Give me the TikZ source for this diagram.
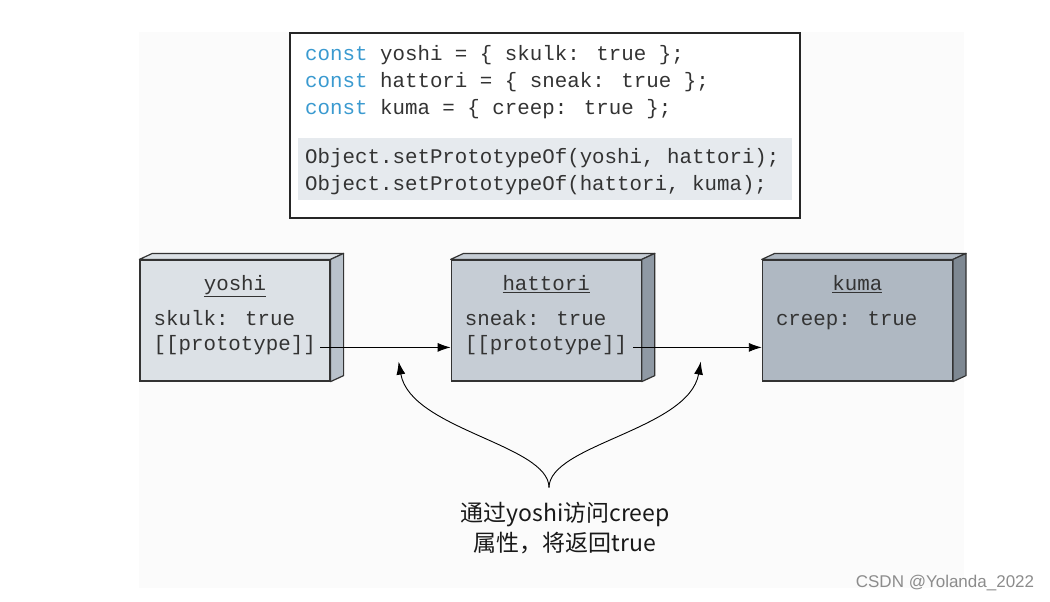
\documentclass[tikz,border=0pt]{standalone}
\usepackage{fontspec}
\usepackage{xcolor}
\usetikzlibrary{calc}
\usetikzlibrary{positioning}
\usetikzlibrary{arrows.meta}
\newfontfamily\codefont{Liberation Mono}
\newfontfamily\cjkfont{Noto Sans CJK SC}
\newfontfamily\markfont{Liberation Sans}
\definecolor{panelbg}{HTML}{FBFBFB}
\definecolor{edge}{HTML}{333333}
\definecolor{codegray}{HTML}{333333}
\definecolor{kwblue}{HTML}{3A9AD0}
\definecolor{hilite}{HTML}{E6EAEE}
\definecolor{yoshiface}{HTML}{DCE1E6}
\definecolor{yoshiside}{HTML}{B9C2CB}
\definecolor{hattoriface}{HTML}{C6CDD5}
\definecolor{hattoriside}{HTML}{8F99A4}
\definecolor{kumaface}{HTML}{AFB8C2}
\definecolor{kumaside}{HTML}{7E8892}
\newcommand{\kw}[1]{\textcolor{kwblue}{#1}}
% top and right faces of an object box
\newcommand{\objdepth}[3]{%
  \draw[line width=1.2pt, draw=edge, line join=round, fill=#2]
    (#1.north west) -- ++(13,-6) -- ($(#1.north east)+(13,-6)$) -- (#1.north east) -- cycle;
  \draw[line width=1.2pt, draw=edge, line join=round, fill=#3]
    (#1.north east) -- ++(13,-6) -- ($(#1.south east)+(13,-6)$) -- (#1.south east) -- cycle;
}

\begin{document}
\begin{tikzpicture}[x=1pt, y=-1pt]

    \def\d{120pt}

    \tikzset{
        objbox/.style={draw=edge, line width=1.2pt, minimum width=190pt,
            minimum height=121pt, inner sep=0pt},
        codetxt/.style={font=\codefont\fontsize{20.8pt}{27pt}\selectfont,
            text=codegray, inner sep=0pt},
        link/.style={-{Latex[length=13pt,width=9pt]}, line width=0.9pt},
    }

    \useasboundingbox (0,0) rectangle (1050,602);
    \fill[panelbg] (139,32) rectangle (964,588);

    % code listing (base anchor = last line)
    \node[draw=black!85, line width=1.3pt, fill=white, minimum width=510pt,
        minimum height=185pt] (code) at (545,125.5) {};
    \node[fill=hilite, minimum width=494pt, minimum height=62pt, inner sep=0pt]
        (setbg) at (545,169) {};
    \node[codetxt, align=left, anchor=base west] (decl) at (305,114)
        {\kw{const} yoshi = \{ skulk: true \};\\
         \kw{const} hattori = \{ sneak: true \};\\
         \kw{const} kuma = \{ creep: true \};};
    \node[codetxt, align=left, anchor=base west] (setp) at (305,190)
        {Object.setPrototypeOf(yoshi, hattori);\\
         Object.setPrototypeOf(hattori, kuma);};

    % the three objects
    \node[objbox, fill=yoshiface] (yoshi) at (235,320.5) {};
    \node[objbox, fill=hattoriface, right=\d of yoshi] (hattori) {};
    \node[objbox, fill=kumaface, right=\d of hattori] (kuma) {};
    \objdepth{yoshi}{yoshiface}{yoshiside}
    \objdepth{hattori}{hattoriface}{hattoriside}
    \objdepth{kuma}{kumaface}{kumaside}

    \node[codetxt, anchor=base] (yoshiT) at ([yshift=-31pt]yoshi.north)
        {\underline{yoshi}};
    \node[codetxt, anchor=base west] (yoshiA)
        at ([xshift=14pt,yshift=-66pt]yoshi.north west) {skulk: true};
    \node[codetxt, anchor=base west] (yoshiB)
        at ([xshift=14pt,yshift=-91pt]yoshi.north west) {[[prototype]]};

    \node[codetxt, anchor=base] (hattoriT) at ([yshift=-31pt]hattori.north)
        {\underline{hattori}};
    \node[codetxt, anchor=base west] (hattoriA)
        at ([xshift=14pt,yshift=-66pt]hattori.north west) {sneak: true};
    \node[codetxt, anchor=base west] (hattoriB)
        at ([xshift=14pt,yshift=-91pt]hattori.north west) {[[prototype]]};

    \node[codetxt, anchor=base] (kumaT) at ([yshift=-31pt]kuma.north)
        {\underline{kuma}};
    \node[codetxt, anchor=base west] (kumaA)
        at ([xshift=14pt,yshift=-66pt]kuma.north west) {creep: true};

    % prototype links
    \coordinate (yoshiP) at ([yshift=3pt]yoshiB.base east);
    \coordinate (hattoriP) at ([yshift=3pt]hattoriB.base east);
    \draw[link] ([xshift=4pt]yoshiP) -- (hattori.west |- yoshiP);
    \draw[link] ([xshift=6pt]hattoriP) -- (kuma.west |- hattoriP);

    % note with the two curved pointers
    \node[font=\cjkfont\fontsize{23pt}{30pt}\selectfont, align=center,
        text=black!90] (note) at (565,528)
        {通过yoshi访问creep\\属性，将返回true};
    \coordinate (cusp) at ([xshift=-16pt,yshift=11pt]note.north);
    \coordinate (tipL) at ([xshift=-52pt,yshift=20pt]hattori.south west);
    \coordinate (tipR) at ([xshift=59pt,yshift=20pt]hattori.south east);
    \draw[link] (cusp) .. controls ($(cusp)+(0,-43)$) and ($(tipL)+(12,68)$) .. (tipL);
    \draw[link] (cusp) .. controls ($(cusp)+(0,-43)$) and ($(tipR)+(-12,68)$) .. (tipR);

    \node[font=\markfont\fontsize{17pt}{19pt}\selectfont, text=black!45]
        (mark) at (945,583) {CSDN @Yolanda\_2022};

\end{tikzpicture}
\end{document}
